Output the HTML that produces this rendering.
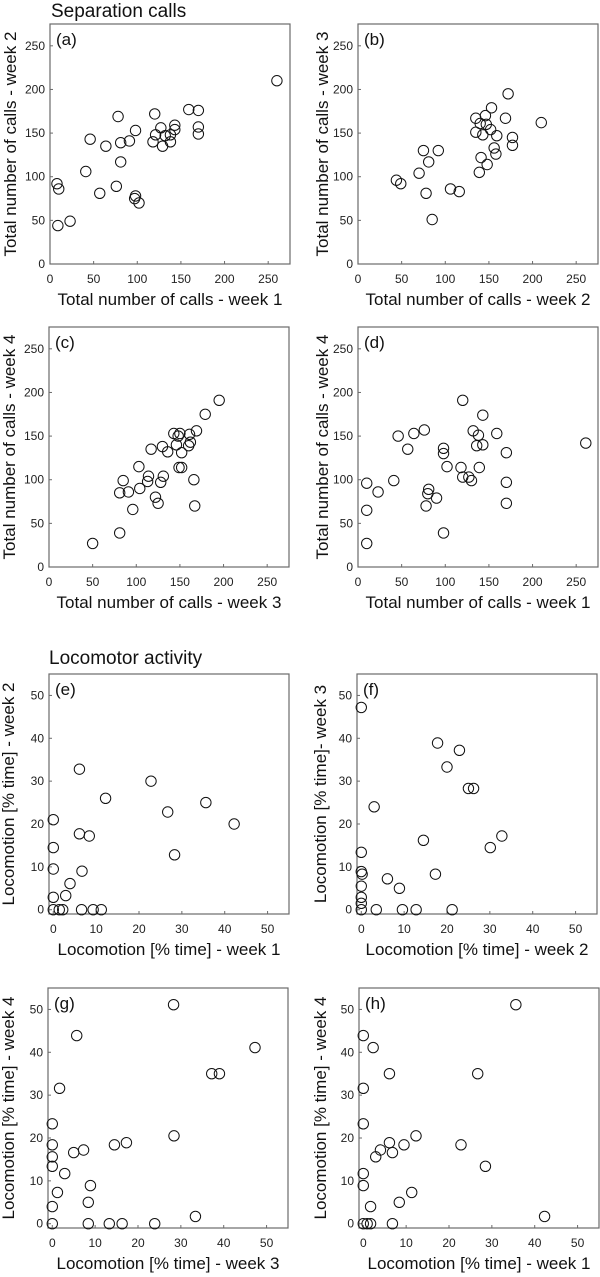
<!DOCTYPE html>
<html><head><meta charset="utf-8"><style>
html,body{margin:0;padding:0;background:#fff;}
svg{display:block;font-family:"Liberation Sans",Arial,sans-serif;}
</style></head><body>
<svg id="fig" width="600" height="1277" viewBox="0 0 600 1277" xmlns="http://www.w3.org/2000/svg">
<text x="51" y="17" font-size="19" fill="#111">Separation calls</text>
<text x="49" y="664" font-size="19" fill="#111">Locomotor activity</text>
</svg>
<script>
const callTicks = [0,50,100,150,200,250];
const locoTicks = [0,10,20,30,40,50];
const aX=[9,8,10,23,41,46,57,64,76,78,81,81,91,98,98,97,102,120,121,118,127,129,132,138,138,143,143,159,170,170,170,260];
const aY=[44,92,86,49,106,143,81,135,89,169,117,139,141,153,78,75,70,172,148,140,156,135,147,140,148,159,154,177,176,157,149,210];
const bX=[44,49,70,75,78,81,92,85,106,116,135,135,140,146,147,143,152,153,159,141,156,158,148,139,169,172,177,177,210];
const bY=[96,92,104,130,81,117,130,51,86,83,151,167,161,170,160,148,154,179,147,122,133,126,114,105,167,195,136,145,162];
const cX=[50,81,81,85,91,96,103,104,113,114,117,122,125,128,130,131,136,143,146,148,150,149,152,152,161,162,160,169,166,167,179,195];
const cY=[27,39,85,99,86,66,115,90,98,104,135,80,73,97,138,104,132,153,140,150,153,114,114,131,152,143,139,156,100,70,175,191];
const dX=[10,10,10,23,41,46,57,64,76,81,80,78,90,98,98,98,102,120,118,120,127,130,132,138,136,143,143,139,159,170,170,170,261];
const dY=[96,65,27,86,99,150,135,153,157,89,84,70,79,136,130,39,115,191,114,103,103,99,156,151,139,140,174,114,153,131,97,73,142];
const eX=[0,0,0,0,0,1.4,2.2,2.9,3.9,6.1,6.1,6.7,6.6,8.4,9.3,11.2,12.2,22.8,26.7,28.3,35.6,42.2];
const eY=[0,2.9,9.5,14.5,21,0,0,3.3,6.1,32.8,17.7,9,0,17.2,0,0,26,30,22.8,12.8,25,20];
const fX=[0,0,0,0.2,0,0,0,0,3,3.5,6.1,8.9,9.6,12.8,14.5,17.3,17.8,20,21.2,22.9,25,26.2,30.1,32.8];
const fY=[47.2,13.4,8.9,8.3,5.5,2.9,1.5,0,24,0,7.2,5,0,0,16.2,8.3,38.9,33.3,0,37.2,28.3,28.3,14.5,17.2];
const gX=[0,0,0,0,0,0,1.2,1.7,2.9,5,5.7,7.3,8.4,8.4,8.9,13.3,14.5,16.3,17.3,23.9,28.4,28.3,33.4,37.2,39,47.3];
const gY=[0,4,13.4,15.6,18.4,23.3,7.3,31.6,11.7,16.6,43.9,17.2,5,0,8.9,0,18.4,0,18.9,0,20.5,51.1,1.7,35,35,41.1];
const hX=[0,0,0,0,0,0,0.9,1.7,1.7,2.3,2.9,4,6.1,6.1,6.8,6.8,8.4,9.5,11.3,12.3,22.8,26.7,28.5,35.6,42.3];
const hY=[0,8.9,11.7,23.3,31.6,43.9,0,0,4,41.1,15.6,17.2,18.9,35,16.6,0,5,18.4,7.3,20.5,18.4,35,13.4,51.1,1.7];

const NS='http://www.w3.org/2000/svg';
const svg=document.getElementById('fig');
function mk(tag,attrs,parent){const e=document.createElementNS(NS,tag);for(const k in attrs)e.setAttribute(k,attrs[k]);(parent||svg).appendChild(e);return e;}

function panel(id,bx,by,xs,ys,ticks,dmin,dmax,letter,xt,yt,ytx){
  const W=240,H=240;
  const g=mk('g',{});
  
  
  const sx=v=>bx+(v-dmin)/(dmax-dmin)*W;
  const sy=v=>by+H-(v-dmin)/(dmax-dmin)*H;
  const box=mk('rect',{x:bx,y:by,width:W,height:H,fill:'none',stroke:'#6a6a6a','stroke-width':1.2},g);
  
  
  ticks.forEach(t=>{
    mk('line',{x1:sx(t),x2:sx(t),y1:by+H,y2:by+H-3,stroke:'#6a6a6a','stroke-width':1},g);
    mk('line',{x1:bx,x2:bx+3,y1:sy(t),y2:sy(t),stroke:'#6a6a6a','stroke-width':1},g);
    const tx=mk('text',{x:sx(t),y:by+H+19,'font-size':12,'text-anchor':'middle',fill:'#222'},g);
    tx.textContent=t;
    
    
    const ty=mk('text',{x:bx-5,y:sy(t)+4,'font-size':12,'text-anchor':'end',fill:'#222'},g);
    ty.textContent=t;
    
    
  });
  const lt=mk('text',{x:bx+6,y:by+21,'font-size':17,fill:'#111'},g);
  lt.textContent='('+letter+')';
  
  
  const xl=mk('text',{x:bx+W/2,y:by+H+41,'font-size':17,'text-anchor':'middle',fill:'#111'},g);
  xl.textContent=xt;
  
  
  const cy=by+H/2;
  const yl=mk('text',{x:ytx,y:cy,'font-size':17,'text-anchor':'middle',fill:'#111',transform:'rotate(-90 '+ytx+' '+cy+')'},g);
  yl.textContent=yt;
  
  
  for(let i=0;i<xs.length;i++){
    const c=mk('circle',{cx:sx(xs[i]),cy:sy(ys[i]),r:5.2,fill:'#fff','fill-opacity':0,stroke:'#111','stroke-width':1},g);
    
    
  }
}
const T='Total number of calls - week ';
const L='Locomotion [% time] - week ';
panel('a',50,24,aX,aY,callTicks,0,275,'a',T+'1',T+'2',16);
panel('b',358,24,bX,bY,callTicks,0,275,'b',T+'2',T+'3',328);
panel('c',49,327,cX,cY,callTicks,0,275,'c',T+'3',T+'4',15);
panel('d',358,327,dX,dY,callTicks,0,275,'d',T+'1',T+'4',328);
panel('e',49,674,eX,eY,locoTicks,-1,55,'e',L+'1',L+'2',14);
panel('f',357,674,fX,fY,locoTicks,-1,55,'f',L+'2','Locomotion [% time]- week 3',326);
panel('g',48,988,gX,gY,locoTicks,-1,55,'g',L+'3',L+'4',14);
panel('h',359,988,hX,hY,locoTicks,-1,55,'h',L+'1',L+'4',326);
</script>
</body></html>
